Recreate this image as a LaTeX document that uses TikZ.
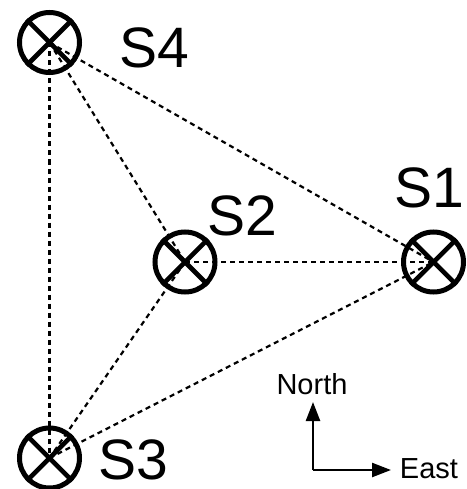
\documentclass[tikz,border=0pt]{standalone}
\usepackage{fontspec}
\setmainfont{Liberation Sans}
\usetikzlibrary{arrows.meta}
\begin{document}
\begin{tikzpicture}[x=1pt,y=-1pt,
  sensor/.style={circle,draw=black,line width=5pt,minimum size=60pt,inner sep=0pt},
  cross/.style={line width=4.6pt},
  link/.style={line width=2.2pt,dash pattern=on 5pt off 4pt},
  biglabel/.style={font=\fontsize{57}{60}\selectfont,inner sep=0pt,text height=41pt,text depth=0pt},
  dirlabel/.style={font=\fontsize{29}{32}\selectfont,inner sep=0pt,text height=21pt,text depth=0pt},
  dirarrow/.style={line width=2.4pt,-{Triangle[length=19pt,width=14pt]}}]
\useasboundingbox (0,0) rectangle (466,489);
\node[sensor] (s4) at (49.5,42.5) {};
\node[sensor] (s2) at (185,262) {};
\node[sensor] (s1) at (433.5,262) {};
\node[sensor] (s3) at (49.5,458) {};
\foreach \n in {s1,s2,s3,s4}{
  \draw[cross] (\n.north east) -- (\n.south west);
  \draw[cross] (\n.north west) -- (\n.south east);
}
\draw[link] (s4.center) -- (s3.center);
\draw[link] (s4.center) -- (s2.center);
\draw[link] (s4.center) -- (s1.center);
\draw[link] (s2.center) -- (s1.center);
\draw[link] (s2.center) -- (s3.center);
\draw[link] (s3.center) -- (s1.center);
\node[biglabel] (l4) at (154,47.5) {S4};
\node[biglabel] (l2) at (242,215) {S2};
\node[biglabel] (l1) at (429.5,187) {S1};
\node[biglabel] (l3) at (133,459) {S3};
\coordinate (corner) at (313,470);
\coordinate (ntip) at (313,402);
\coordinate (etip) at (391,470);
\draw[dirarrow] (corner) -- (ntip);
\draw[dirarrow] (corner) -- (etip);
\node[dirlabel] (north) at (312,384) {North};
\node[dirlabel] (east) at (429,468) {East};
\end{tikzpicture}
\end{document}
